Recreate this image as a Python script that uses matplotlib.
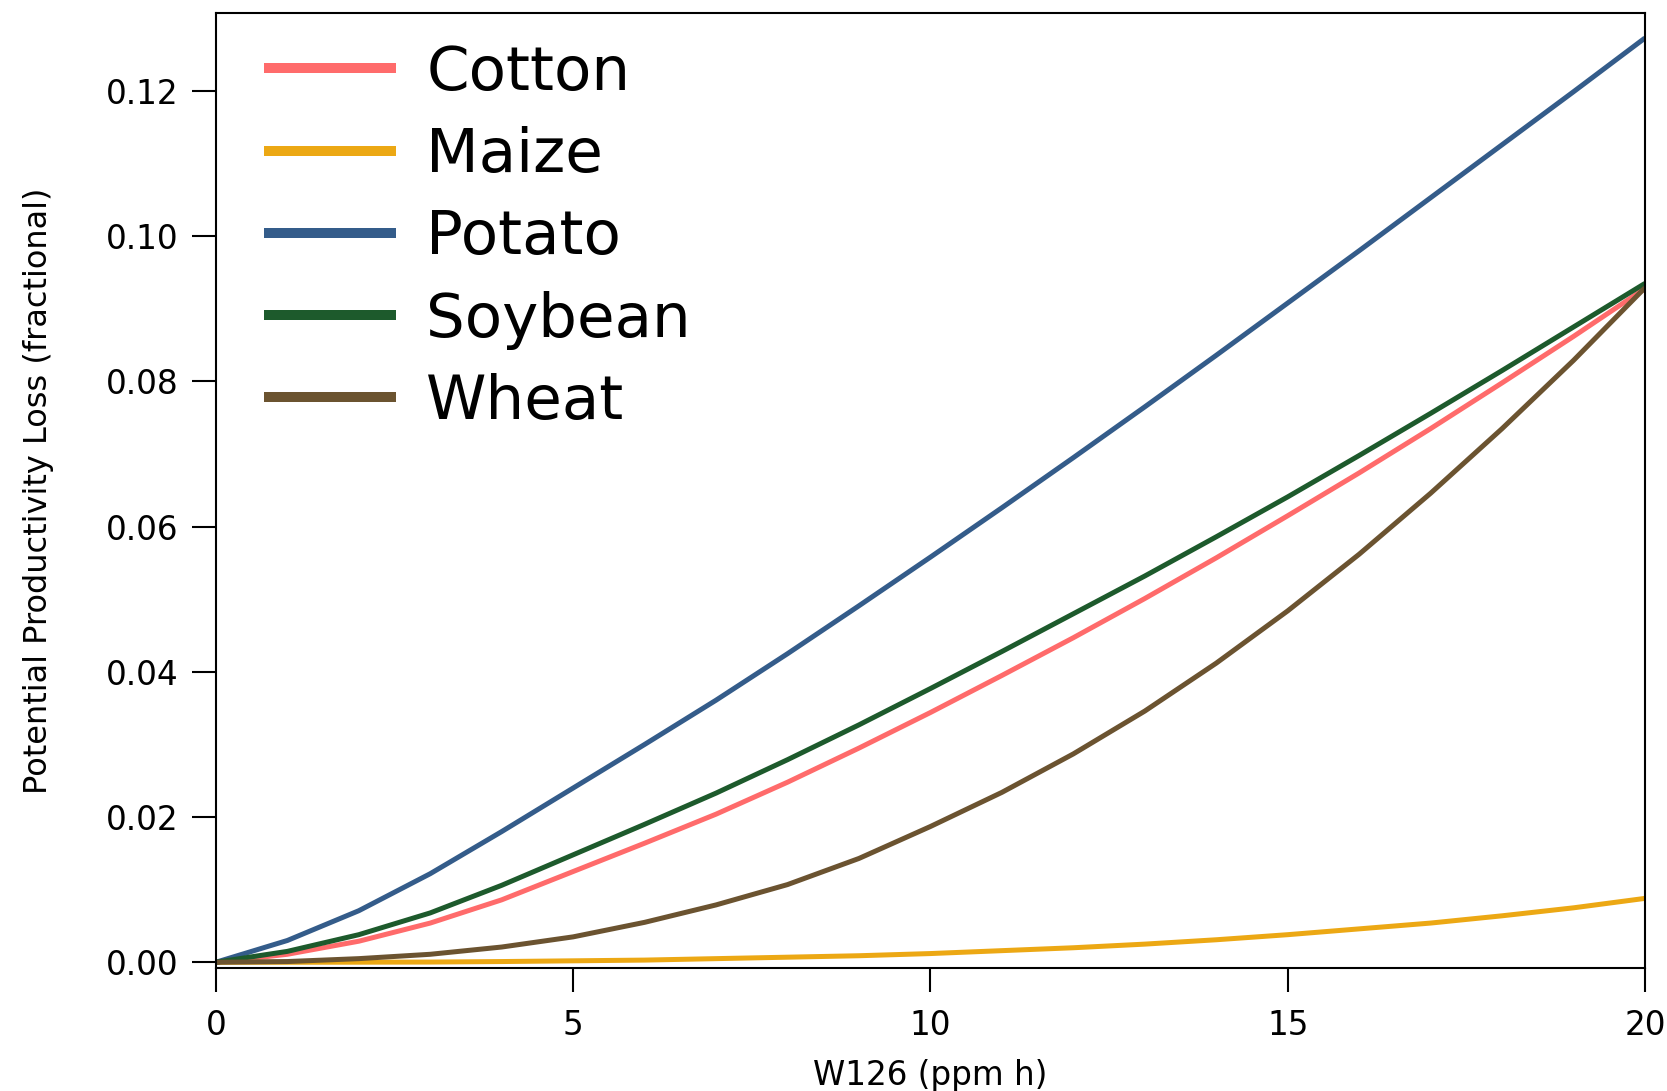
import matplotlib
matplotlib.use("Agg")
import matplotlib.pyplot as plt
from matplotlib.lines import Line2D

# W126 exposure (ppm h) and fractional yield loss per crop
w126 = [0, 1, 2, 3, 4, 5, 6, 7, 8, 9, 10, 11, 12, 13, 14, 15, 16, 17, 18, 19, 20]

cotton = [0, 0.0011, 0.0029, 0.0054, 0.0086, 0.0125, 0.0164, 0.0204, 0.0248, 0.0295, 0.0344,
          0.0395, 0.0447, 0.0501, 0.0557, 0.0615, 0.0674, 0.0735, 0.0798, 0.0862, 0.0928]
maize = [0, 0.0, 0.00001, 0.00003, 0.0001, 0.0002, 0.0003, 0.0005, 0.0007, 0.0009, 0.0012,
         0.0016, 0.0020, 0.0025, 0.0031, 0.0038, 0.0046, 0.0054, 0.0064, 0.0075, 0.0088]
potato = [0, 0.0030, 0.0071, 0.0122, 0.0180, 0.0240, 0.0300, 0.0361, 0.0425, 0.0491, 0.0558,
          0.0626, 0.0695, 0.0765, 0.0836, 0.0908, 0.0980, 0.1053, 0.1126, 0.1199, 0.1273]
soybean = [0, 0.0015, 0.0038, 0.0068, 0.0106, 0.0148, 0.0190, 0.0233, 0.0279, 0.0327, 0.0377,
           0.0428, 0.0480, 0.0532, 0.0586, 0.0641, 0.0698, 0.0756, 0.0815, 0.0875, 0.0935]
wheat = [0, 0.0001, 0.0005, 0.0011, 0.0021, 0.0035, 0.0055, 0.0079, 0.0107, 0.0143, 0.0187,
         0.0234, 0.0287, 0.0346, 0.0412, 0.0484, 0.0562, 0.0646, 0.0735, 0.0829, 0.0929]

crops = ["Cotton", "Maize", "Potato", "Soybean", "Wheat"]
series = [cotton, maize, potato, soybean, wheat]
colors = ["#ff6b6b", "#eca814", "#345c8a", "#1d5a2c", "#6b5330"]

plt.rcParams['font.family'] = ['DejaVu Sans']

fig = plt.figure(figsize=(16.67, 10.91), dpi=100)
ax = fig.add_axes([0.1295, 0.113, 0.8573, 0.8748])

for name, vals, c in zip(crops, series, colors):
    ax.plot(w126, vals, color=c, lw=3.6, solid_capstyle='butt', solid_joinstyle='round', label=name)

ax.set_xlim(0, 20)
ax.set_ylim(-0.00075, 0.1307)
ax.set_xticks([0, 5, 10, 15, 20])
ax.set_yticks([0.0, 0.02, 0.04, 0.06, 0.08, 0.10, 0.12])
ax.set_yticklabels(["0.00", "0.02", "0.04", "0.06", "0.08", "0.10", "0.12"])

for s in ax.spines.values():
    s.set_linewidth(1.5)
ax.tick_params(axis='both', direction='out', length=17, width=1.5, labelsize=23.5)
ax.tick_params(axis='x', pad=13)
ax.tick_params(axis='y', pad=10)

ax.set_xlabel("W126 (ppm h)", fontsize=23.5, labelpad=12)
ax.set_ylabel("Potential Productivity Loss (fractional)", fontsize=23, labelpad=37)

# thicker strokes in the legend than on the curves
handles = [Line2D([], [], color=c, lw=7.2, solid_capstyle='butt') for c in colors]
ax.legend(handles, crops, loc='upper left', bbox_to_anchor=(0.034, 0.968),
          frameon=False, fontsize=44, handlelength=2.15, handletextpad=0.5,
          labelspacing=0.38, borderpad=0, borderaxespad=0)

fig.savefig("out.png", dpi=100)
